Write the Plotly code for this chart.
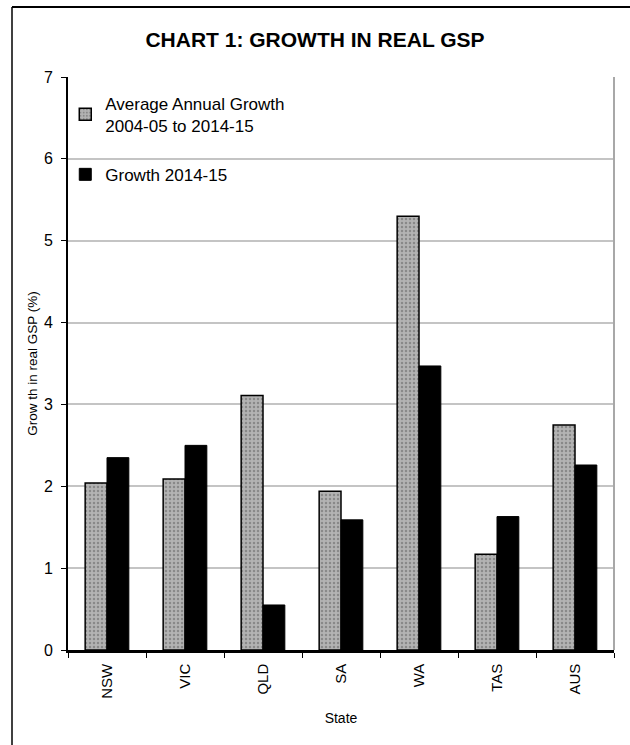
import plotly.graph_objects as go

states = ["NSW", "VIC", "QLD", "SA", "WA", "TAS", "AUS"]
avg_growth = [2.04, 2.09, 3.11, 1.94, 5.30, 1.17, 2.75]
growth_1415 = [2.35, 2.50, 0.55, 1.59, 3.47, 1.63, 2.26]
y_ticks = [0, 1, 2, 3, 4, 5, 6, 7]

FONT = "Liberation Sans, Arial, sans-serif"

fig = go.Figure()
fig.add_trace(go.Bar(
    x=states, y=avg_growth,
    name="Average Annual Growth<br>2004-05 to 2014-15",
    legendgroup="a",
    marker=dict(
        color="#a8a8a8",
        line=dict(color="black", width=1.5),
        pattern=dict(shape=".", fgcolor="#5e5e5e", bgcolor="#b3b3b3", size=4, solidity=0.3),
    ),
))
fig.add_trace(go.Bar(
    x=states, y=growth_1415,
    name="Growth 2014-15",
    legendgroup="b",
    marker=dict(color="black", line=dict(color="black", width=1)),
))

fig.update_layout(
    width=630, height=745,
    paper_bgcolor="white", plot_bgcolor="white",
    margin=dict(l=68, r=16, t=77, b=95),
    barmode="group", bargap=0.44, bargroupgap=0,
    font=dict(family=FONT, color="black"),
    title=dict(text="<b>CHART 1: GROWTH IN REAL GSP</b>", x=0.5, xanchor="center",
               y=1 - 40 / 745, yanchor="middle", font=dict(size=21, family=FONT)),
    legend=dict(x=-0.005, y=0.985, xanchor="left", yanchor="top",
                bgcolor="rgba(0,0,0,0)", font=dict(size=17, family=FONT),
                traceorder="grouped", itemwidth=30, tracegroupgap=24),
    showlegend=True,
)
fig.update_yaxes(
    range=[0, 7], tickvals=y_ticks, ticks="outside", ticklen=5, tickcolor="black",
    showline=True, linecolor="black", linewidth=2,
    showgrid=True, gridcolor="#c4c4c4", gridwidth=1.5,
    tickfont=dict(size=16), zeroline=False, ticklabelstandoff=5,
    title=dict(text="Grow th in real GSP (%)", font=dict(size=13.5), standoff=3),
)
fig.update_xaxes(
    tickangle=-90, ticks="outside", ticklen=5, tickcolor="black", tickson="boundaries",
    showline=True, linecolor="black", linewidth=2.5,
    tickfont=dict(size=15), ticklabelstandoff=5,
    title=dict(text="State", font=dict(size=14), standoff=16),
)
# plot area right border (grey)
fig.add_shape(type="line", xref="paper", yref="paper", x0=1, x1=1, y0=0, y1=1,
              line=dict(color="#a8a8a8", width=2))
# outer chart frame (left and top edges)
fig.add_shape(type="line", xref="paper", yref="paper",
              x0=-56/546, x1=-56/546, y0=-95/573, y1=(650-7)/573,
              line=dict(color="black", width=1.5))
fig.add_shape(type="line", xref="paper", yref="paper",
              x0=-56/546, x1=(630-68)/546, y0=(650-7)/573, y1=(650-7)/573,
              line=dict(color="black", width=2))

fig.write_html("out.html")
